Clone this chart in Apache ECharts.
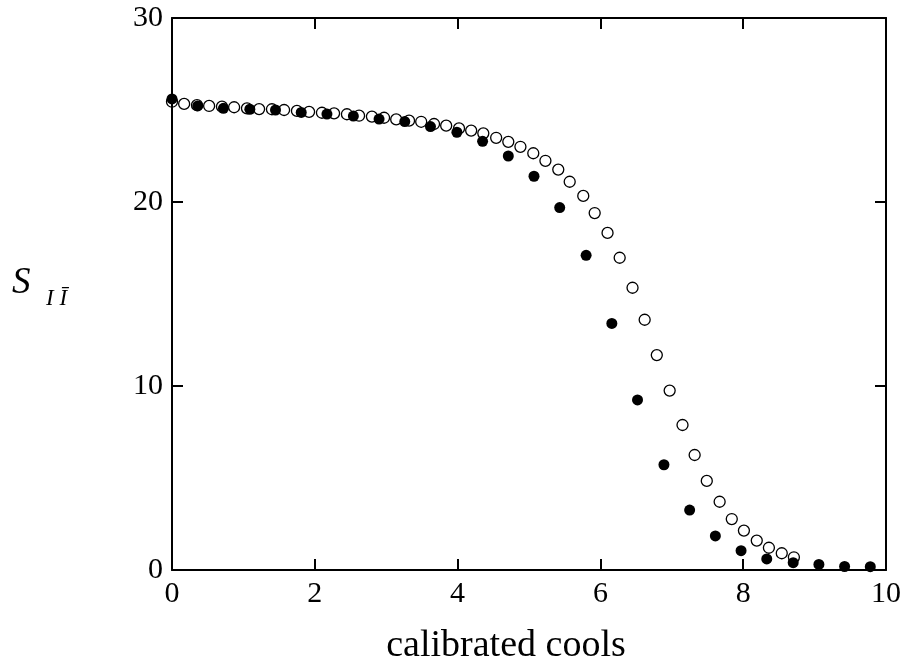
<!DOCTYPE html>
<html>
<head>
<meta charset="utf-8">
<script src="https://cdn.jsdelivr.net/npm/echarts@6/dist/echarts.min.js"></script>
<style>html,body{margin:0;padding:0;background:#fff}#c{width:904px;height:671px}</style>
</head>
<body>
<div id="c"></div>
<script>
// Filled circles
var filledX = [0, 0.36, 0.72, 1.09, 1.45, 1.81, 2.17, 2.54, 2.90, 3.26, 3.62, 3.99, 4.35, 4.71, 5.07, 5.43, 5.80, 6.16, 6.52, 6.89, 7.25, 7.61, 7.97, 8.33, 8.70, 9.06, 9.42, 9.78];
var filledY = [25.6, 25.22, 25.09, 25.04, 25.0, 24.87, 24.78, 24.67, 24.51, 24.37, 24.1, 23.79, 23.3, 22.5, 21.4, 19.7, 17.1, 13.4, 9.24, 5.72, 3.26, 1.85, 1.05, 0.6, 0.4, 0.3, 0.19, 0.18];
// Open circles
var openX = [0, 0.17, 0.35, 0.52, 0.70, 0.87, 1.05, 1.22, 1.40, 1.57, 1.75, 1.92, 2.10, 2.27, 2.45, 2.62, 2.80, 2.97, 3.14, 3.32, 3.49, 3.67, 3.84, 4.02, 4.19, 4.36, 4.54, 4.71, 4.88, 5.06, 5.23, 5.41, 5.57, 5.76, 5.92, 6.10, 6.27, 6.45, 6.62, 6.79, 6.97, 7.15, 7.32, 7.49, 7.67, 7.84, 8.01, 8.19, 8.36, 8.54, 8.71];
var openY = [25.45, 25.33, 25.26, 25.22, 25.18, 25.15, 25.09, 25.05, 25.04, 25.0, 24.95, 24.9, 24.85, 24.82, 24.77, 24.69, 24.64, 24.58, 24.49, 24.42, 24.36, 24.24, 24.15, 24.0, 23.88, 23.73, 23.49, 23.27, 23.0, 22.65, 22.24, 21.76, 21.1, 20.33, 19.4, 18.32, 16.97, 15.34, 13.6, 11.68, 9.75, 7.88, 6.25, 4.84, 3.71, 2.77, 2.14, 1.6, 1.21, 0.91, 0.69];
var xTicks = [0, 2, 4, 6, 8, 10];
var yTicks = [0, 10, 20, 30];
var xTitle = 'calibrated cools';
var yTitleMain = 'S';
var yTitleSub = 'I Ī';

function pairs(xs, ys) { return xs.map(function (x, i) { return [x, ys[i]]; }); }

var font = 'Liberation Serif';
var tickLen = 11;
var axisLine = { show: true, onZero: false, lineStyle: { color: '#000', width: 2 } };
var tick = { show: true, inside: true, length: tickLen, lineStyle: { color: '#000', width: 2 } };
function xAx(pos, lbl) {
  return { type: 'value', min: xTicks[0], max: xTicks[xTicks.length - 1], interval: xTicks[1] - xTicks[0], position: pos,
    axisLine: axisLine, axisTick: tick,
    axisLabel: lbl ? { color: '#000', fontFamily: font, fontSize: 30, margin: 9 } : { show: false },
    splitLine: { show: false } };
}
function yAx(pos, lbl) {
  return { type: 'value', min: yTicks[0], max: yTicks[yTicks.length - 1], interval: yTicks[1] - yTicks[0], position: pos,
    axisLine: axisLine, axisTick: tick,
    axisLabel: lbl ? { color: '#000', fontFamily: font, fontSize: 30, margin: 9 } : { show: false },
    splitLine: { show: false } };
}
var chart = echarts.init(document.getElementById('c'), null, { renderer: 'canvas' });
chart.setOption({
  animation: false,
  backgroundColor: '#fff',
  grid: { left: 172, right: 18, top: 18, bottom: 101, containLabel: false },
  xAxis: [xAx('bottom', true), xAx('top', false)],
  yAxis: [yAx('left', true), yAx('right', false)],
  graphic: [
    { type: 'text', x: 506, y: 646, style: { text: xTitle, fill: '#000', font: '38px "' + font + '"', align: 'center', verticalAlign: 'middle' } },
    { type: 'text', x: 12, y: 283, style: { text: yTitleMain, fill: '#000', font: 'italic 37px "' + font + '"', align: 'left', verticalAlign: 'middle' } },
    { type: 'text', x: 46, y: 299, style: { text: yTitleSub, fill: '#000', font: 'italic 23px "' + font + '"', align: 'left', verticalAlign: 'middle' } }
  ],
  series: [
    { type: 'scatter', xAxisIndex: 1, yAxisIndex: 1, data: pairs(openX, openY), symbol: 'circle', symbolSize: 11, clip: false,
      itemStyle: { color: 'rgba(255,255,255,0)', borderColor: '#000', borderWidth: 1.3, opacity: 1 } },
    { type: 'scatter', xAxisIndex: 0, yAxisIndex: 0, data: pairs(filledX, filledY), symbol: 'circle', symbolSize: 11, clip: false,
      itemStyle: { color: '#000', borderWidth: 0, opacity: 1 } }
  ]
});
</script>
</body>
</html>
